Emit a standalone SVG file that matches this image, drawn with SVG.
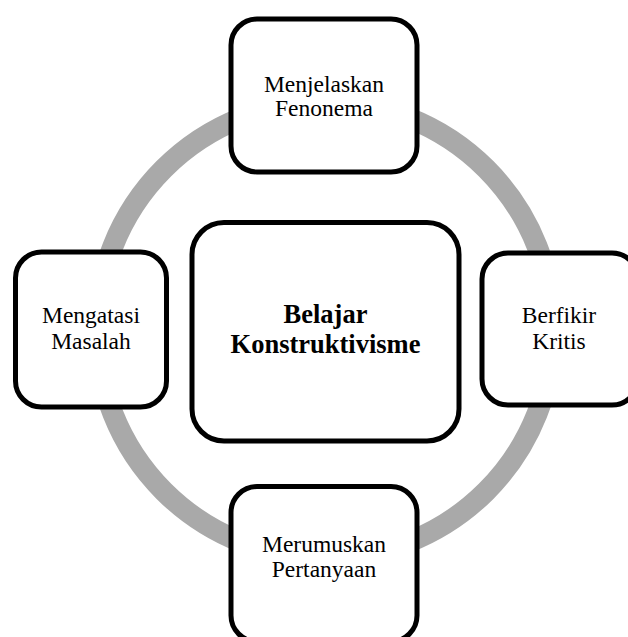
<svg xmlns="http://www.w3.org/2000/svg" width="628" height="637" viewBox="0 0 628 637">
<style>
.box{fill:#fff;stroke:#000;stroke-width:5}
.t{font-family:"Liberation Serif","Times New Roman",serif;font-size:23.5px;fill:#000;text-anchor:middle}
.b{font-family:"Liberation Serif","Times New Roman",serif;font-size:26.5px;font-weight:bold;fill:#000;text-anchor:middle}
</style>
<rect width="628" height="637" fill="#fff"/>
<g id="connectors">
<circle cx="325" cy="330" r="228" fill="none" stroke="#a9a9a9" stroke-width="21"/>
</g>
<g id="center">
<rect class="box" x="192" y="222.5" width="267" height="218.5" rx="32"/>
<text class="b" x="325.5" y="323">Belajar</text>
<text class="b" x="325.5" y="353">Konstruktivisme</text>
</g>
<g id="top">
<rect class="box" x="231" y="19" width="186" height="153" rx="26"/>
<text class="t" x="324" y="92">Menjelaskan</text>
<text class="t" x="324" y="116">Fenonema</text>
</g>
<g id="left">
<rect class="box" x="15.5" y="252" width="151" height="155" rx="26"/>
<text class="t" x="91" y="323">Mengatasi</text>
<text class="t" x="91" y="349">Masalah</text>
</g>
<g id="right">
<rect class="box" x="482" y="253" width="156" height="152" rx="26"/>
<text class="t" x="559" y="323">Berfikir</text>
<text class="t" x="559" y="349">Kritis</text>
</g>
<g id="bottom">
<rect class="box" x="231" y="486.5" width="186" height="155" rx="26"/>
<text class="t" x="324" y="552">Merumuskan</text>
<text class="t" x="324" y="577">Pertanyaan</text>
</g>
</svg>
